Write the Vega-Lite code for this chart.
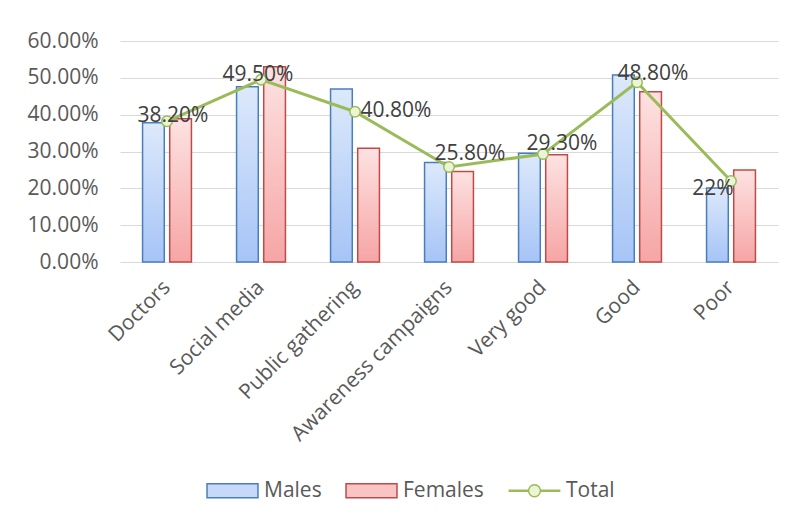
{
  "$schema": "https://vega.github.io/schema/vega-lite/v6.json",
  "width": 658,
  "height": 221,
  "autosize": {"type": "none"},
  "padding": {"left": 120, "top": 41, "right": 17, "bottom": 260},
  "background": "white",
  "data": {
    "values": [
      {"category": "Doctors", "series": "Males", "value": 0.378},
      {"category": "Doctors", "series": "Females", "value": 0.389},
      {"category": "Doctors", "series": "Total", "value": 0.382, "label": "38.20%"},
      {"category": "Social media", "series": "Males", "value": 0.476},
      {"category": "Social media", "series": "Females", "value": 0.53},
      {"category": "Social media", "series": "Total", "value": 0.495, "label": "49.50%"},
      {"category": "Public gathering", "series": "Males", "value": 0.47},
      {"category": "Public gathering", "series": "Females", "value": 0.309},
      {"category": "Public gathering", "series": "Total", "value": 0.408, "label": "40.80%"},
      {"category": "Awareness campaigns", "series": "Males", "value": 0.27},
      {"category": "Awareness campaigns", "series": "Females", "value": 0.246},
      {"category": "Awareness campaigns", "series": "Total", "value": 0.258, "label": "25.80%"},
      {"category": "Very good", "series": "Males", "value": 0.295},
      {"category": "Very good", "series": "Females", "value": 0.291},
      {"category": "Very good", "series": "Total", "value": 0.293, "label": "29.30%"},
      {"category": "Good", "series": "Males", "value": 0.508},
      {"category": "Good", "series": "Females", "value": 0.462},
      {"category": "Good", "series": "Total", "value": 0.488, "label": "48.80%"},
      {"category": "Poor", "series": "Males", "value": 0.201},
      {"category": "Poor", "series": "Females", "value": 0.25},
      {"category": "Poor", "series": "Total", "value": 0.22, "label": "22%"}
    ]
  },
  "encoding": {
    "x": {
      "field": "category", "type": "nominal", "sort": null,
      "scale": {"paddingInner": 0.48, "paddingOuter": 0.24},
      "axis": {"title": null, "labelAngle": -45, "labelAlign": "right", "labelBaseline": "middle", "labelPadding": 22, "labelLimit": 0, "domain": false, "ticks": false, "labelFont": "Open Sans", "labelFontSize": 21, "labelColor": "#595959"}
    },
    "y": {
      "field": "value", "type": "quantitative",
      "scale": {"domain": [0, 0.6], "nice": false},
      "axis": {"title": null, "values": [0, 0.1, 0.2, 0.3, 0.4, 0.5, 0.6], "format": ".2%", "domain": false, "ticks": false, "labelPadding": 22, "gridColor": "#d9d9d9", "gridWidth": 1.2, "labelFont": "Open Sans", "labelFontSize": 21, "labelColor": "#595959"}
    }
  },
  "layer": [
    {
      "transform": [{"filter": "datum.series === 'Males'"}],
      "mark": {
        "type": "bar", "strokeWidth": 1.5, "stroke": "#4a7ebb",
        "fill": {"gradient": "linear", "x1": 0, "y1": 0, "x2": 0, "y2": 1, "stops": [{"offset": 0, "color": "#dde9fb"}, {"offset": 1, "color": "#a6c4f6"}]}
      },
      "encoding": {
        "xOffset": {"field": "series", "type": "nominal", "scale": {"domain": ["Males", "Females"], "paddingInner": 0.2}}
      }
    },
    {
      "transform": [{"filter": "datum.series === 'Females'"}],
      "mark": {
        "type": "bar", "strokeWidth": 1.5, "stroke": "#be4b48",
        "fill": {"gradient": "linear", "x1": 0, "y1": 0, "x2": 0, "y2": 1, "stops": [{"offset": 0, "color": "#fde2e2"}, {"offset": 1, "color": "#f6a5a5"}]}
      },
      "encoding": {
        "xOffset": {"field": "series", "type": "nominal"}
      }
    },
    {
      "transform": [{"filter": "datum.series === 'Total'"}],
      "mark": {"type": "line", "color": "#9bbb59", "strokeWidth": 3},
      "encoding": {}
    },
    {
      "transform": [{"filter": "datum.series === 'Total'"}],
      "mark": {"type": "point", "shape": "circle", "filled": true, "fill": "#ebf5d5", "stroke": "#9bbb59", "strokeWidth": 1.5, "size": 110, "opacity": 1},
      "encoding": {}
    },
    {
      "transform": [{"filter": "datum.category === 'Doctors' && datum.series === 'Total'"}],
      "mark": {"type": "text", "font": "Open Sans", "fontSize": 21, "color": "#404040", "dx": 6, "dy": -5},
      "encoding": {"text": {"field": "label"}}
    },
    {
      "transform": [{"filter": "datum.category === 'Social media' && datum.series === 'Total'"}],
      "mark": {"type": "text", "font": "Open Sans", "fontSize": 21, "color": "#404040", "dx": -3, "dy": -5},
      "encoding": {"text": {"field": "label"}}
    },
    {
      "transform": [{"filter": "datum.category === 'Public gathering' && datum.series === 'Total'"}],
      "mark": {"type": "text", "font": "Open Sans", "fontSize": 21, "color": "#404040", "dx": 41, "dy": -1},
      "encoding": {"text": {"field": "label"}}
    },
    {
      "transform": [{"filter": "datum.category === 'Awareness campaigns' && datum.series === 'Total'"}],
      "mark": {"type": "text", "font": "Open Sans", "fontSize": 21, "color": "#404040", "dx": 21, "dy": -13},
      "encoding": {"text": {"field": "label"}}
    },
    {
      "transform": [{"filter": "datum.category === 'Very good' && datum.series === 'Total'"}],
      "mark": {"type": "text", "font": "Open Sans", "fontSize": 21, "color": "#404040", "dx": 19, "dy": -10},
      "encoding": {"text": {"field": "label"}}
    },
    {
      "transform": [{"filter": "datum.category === 'Good' && datum.series === 'Total'"}],
      "mark": {"type": "text", "font": "Open Sans", "fontSize": 21, "color": "#404040", "dx": 16, "dy": -8},
      "encoding": {"text": {"field": "label"}}
    },
    {
      "transform": [{"filter": "datum.category === 'Poor' && datum.series === 'Total'"}],
      "mark": {"type": "text", "font": "Open Sans", "fontSize": 21, "color": "#404040", "dx": -18, "dy": 8},
      "encoding": {"text": {"field": "label"}}
    },
    {
      "transform": [{"filter": "false"}],
      "mark": {"type": "point", "filled": true, "strokeWidth": 1.5, "opacity": 1},
      "encoding": {
        "shape": {
          "field": "series", "type": "nominal",
          "scale": {
            "domain": ["Males", "Females", "Total"],
            "range": [
              "M-3.64,-1H3.64V1H-3.64Z",
              "M-3.64,-1H3.64V1H-3.64Z",
              "M-3.7,-0.08H-0.85M-3.7,0.08H-0.85M0.85,-0.08H3.7M0.85,0.08H3.7M-0.85,0A0.85,0.85,0,1,1,0.85,0A0.85,0.85,0,1,1,-0.85,0Z"
            ]
          },
          "legend": {"title": null, "orient": "none", "legendX": 102, "legendY": 439}
        },
        "fill": {
          "field": "series", "type": "nominal",
          "scale": {"domain": ["Males", "Females", "Total"], "range": ["#c6d9f9", "#fac4c4", "#ebf5d5"]},
          "legend": {"title": null, "orient": "none", "legendX": 102, "legendY": 439}
        },
        "stroke": {
          "field": "series", "type": "nominal",
          "scale": {"domain": ["Males", "Females", "Total"], "range": ["#4a7ebb", "#be4b48", "#9bbb59"]},
          "legend": {"title": null, "orient": "none", "legendX": 102, "legendY": 439}
        }
      }
    }
  ],
  "config": {
    "view": {"stroke": null},
    "legend": {
      "direction": "horizontal",
      "symbolSize": 196,
      "symbolStrokeWidth": 1.5,
      "labelOffset": 21,
      "columnPadding": 21,
      "labelFont": "Open Sans",
      "labelFontSize": 21,
      "labelColor": "#595959"
    }
  }
}
